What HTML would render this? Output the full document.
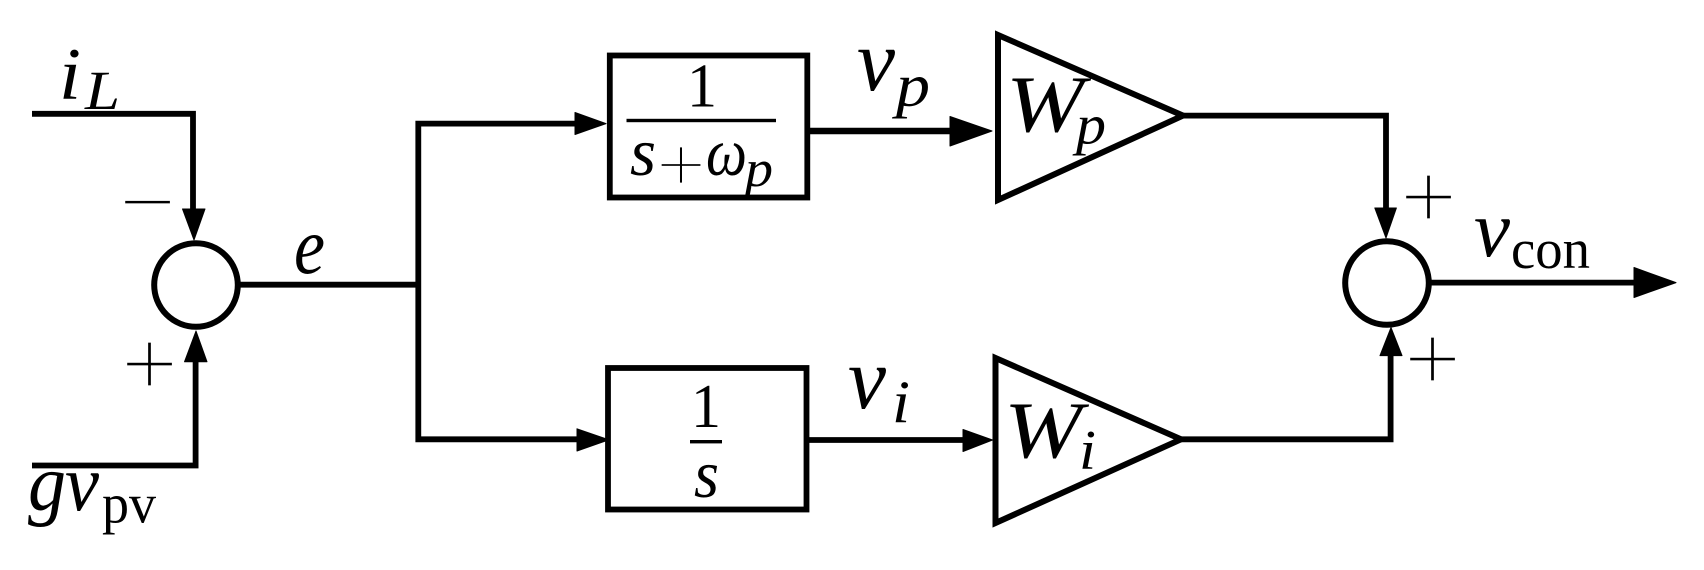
<!DOCTYPE html>
<html>
<head>
<meta charset="utf-8">
<style>
html,body{margin:0;padding:0;background:#fff;width:1704px;height:570px;overflow:hidden}
svg{display:block}
text{font-family:"Liberation Serif",serif;fill:#000}
.m{font-style:italic}
.t{stroke:#fff;stroke-width:2.2px}
</style>
</head>
<body>
<svg width="1704" height="570" viewBox="0 0 1704 570" xmlns="http://www.w3.org/2000/svg">
<rect width="1704" height="570" fill="#fff"/>
<g fill="none" stroke="#000" stroke-width="5.8" stroke-linejoin="miter">
<polyline points="32,113.8 193,113.8 193,212"/>
<polyline points="32,465.5 195.6,465.5 195.6,358"/>
<circle cx="196" cy="285" r="41.8" stroke-width="6"/>
<line x1="238" y1="284.7" x2="418" y2="284.7"/>
<polyline points="578,123.6 418.3,123.6 418.3,439.3 580,439.3"/>
<rect x="609.8" y="55.5" width="197.5" height="142"/>
<rect x="608" y="368" width="198.5" height="141.5"/>
<line x1="807" y1="131" x2="955" y2="131" stroke-width="6.6"/>
<line x1="806" y1="440" x2="966" y2="440"/>
<polygon points="998,35 1183,115.6 998,200" stroke-width="6"/>
<polygon points="995.5,358 1181,439.3 995.5,523" stroke-width="6"/>
<polyline points="1180,115.6 1386,115.6 1386,211"/>
<polyline points="1179,439.3 1390.6,439.3 1390.6,352"/>
<circle cx="1387" cy="283" r="41.8" stroke-width="6"/>
<line x1="1429" y1="282.6" x2="1637" y2="282.6"/>
</g>
<g fill="#000" stroke="#000" stroke-width="1" stroke-linejoin="round">
<polygon points="182.5,209 205,209 194,240"/>
<polygon points="184.5,361.8 207,361.8 196,331"/>
<polygon points="575,112.5 606,123.6 575,134.5"/>
<polygon points="577,428.8 609,439.8 577,451"/>
<polygon points="950,116.5 992,131 950,146"/>
<polygon points="963,429.5 992.5,440 963,451.5"/>
<polygon points="1374.8,208 1396.4,208 1386,238"/>
<polygon points="1380,355.6 1402,355.6 1391,327.5"/>
<polygon points="1634,267.5 1676,282.6 1634,297.5"/>
</g>
<g fill="#000">
<rect x="626.5" y="118.8" width="149.5" height="3.4"/>
<rect x="690" y="440" width="32" height="3.4"/>
</g>

<!-- signs -->
<text class="t" x="119" y="234" font-size="96" textLength="57" lengthAdjust="spacingAndGlyphs">−</text>
<text class="t" x="121" y="396" font-size="96" textLength="57" lengthAdjust="spacingAndGlyphs">+</text>
<text class="t" x="656" y="192" font-size="80" textLength="50" lengthAdjust="spacingAndGlyphs">+</text>
<text class="t" x="1400" y="229" font-size="96" textLength="57" lengthAdjust="spacingAndGlyphs">+</text>
<text class="t" x="1404" y="391" font-size="96" textLength="57" lengthAdjust="spacingAndGlyphs">+</text>

<!-- labels -->
<text class="m" x="59" y="99" font-size="74" textLength="22" lengthAdjust="spacingAndGlyphs">i</text>
<text class="m" x="85" y="109" font-size="55" textLength="35" lengthAdjust="spacingAndGlyphs">L</text>
<text class="m" x="294" y="273" font-size="80" textLength="31" lengthAdjust="spacingAndGlyphs">e</text>
<text class="m" x="28" y="510" font-size="80" textLength="38" lengthAdjust="spacingAndGlyphs">g</text>
<text class="m" x="65" y="510" font-size="80" textLength="34" lengthAdjust="spacingAndGlyphs">v</text>
<text x="102" y="522.5" font-size="56" textLength="54" lengthAdjust="spacingAndGlyphs">pv</text>

<text x="687" y="106.5" font-size="62" textLength="30" lengthAdjust="spacingAndGlyphs">1</text>
<text class="m" x="630" y="175" font-size="68" textLength="26" lengthAdjust="spacingAndGlyphs">s</text>
<text class="m" x="706" y="175" font-size="68" textLength="41" lengthAdjust="spacingAndGlyphs">ω</text>
<text class="m" x="745" y="186" font-size="52" textLength="28" lengthAdjust="spacingAndGlyphs">p</text>

<text x="691" y="427" font-size="62" textLength="30" lengthAdjust="spacingAndGlyphs">1</text>
<text class="m" x="694" y="497" font-size="68" textLength="25" lengthAdjust="spacingAndGlyphs">s</text>

<text class="m" x="857" y="90" font-size="88" textLength="38" lengthAdjust="spacingAndGlyphs">v</text>
<text class="m" x="896" y="105.5" font-size="60" textLength="34" lengthAdjust="spacingAndGlyphs">p</text>
<text class="m" x="848" y="408" font-size="88" textLength="38" lengthAdjust="spacingAndGlyphs">v</text>
<text class="m" x="892" y="422" font-size="60" textLength="18" lengthAdjust="spacingAndGlyphs">i</text>

<text class="m" x="1006" y="131.6" font-size="80" textLength="78" lengthAdjust="spacingAndGlyphs">W</text>
<text class="m" x="1076" y="143.6" font-size="56" textLength="30" lengthAdjust="spacingAndGlyphs">p</text>
<text class="m" x="1004" y="457.5" font-size="80" textLength="78" lengthAdjust="spacingAndGlyphs">W</text>
<text class="m" x="1079" y="469" font-size="56" textLength="17" lengthAdjust="spacingAndGlyphs">i</text>

<text class="m" x="1474" y="256" font-size="80" textLength="36" lengthAdjust="spacingAndGlyphs">v</text>
<text x="1511" y="268" font-size="56" textLength="79" lengthAdjust="spacingAndGlyphs">con</text>
</svg>
</body>
</html>
